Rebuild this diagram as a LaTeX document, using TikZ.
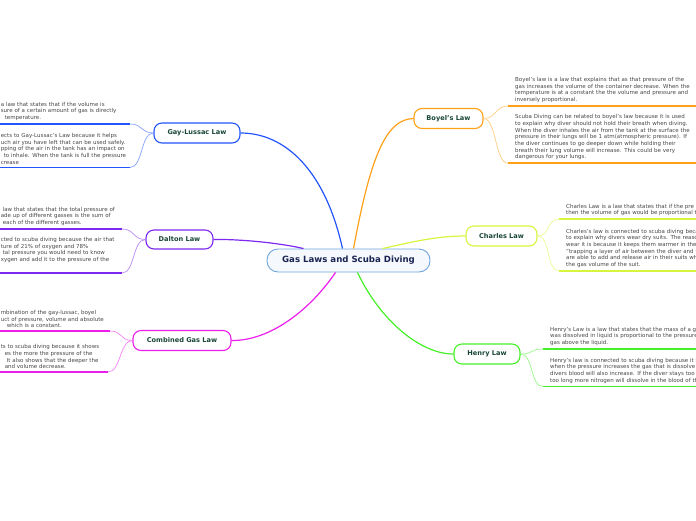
\documentclass[tikz,border=0pt]{standalone}
\usepackage{fontspec}
\setmainfont{DejaVu Sans}
\usetikzlibrary{positioning}

\definecolor{glblue}{RGB}{35,85,250}
\definecolor{dlpurple}{RGB}{125,40,240}
\definecolor{cbmagenta}{RGB}{235,30,235}
\definecolor{byorange}{RGB}{255,160,25}
\definecolor{chlime}{RGB}{215,245,60}
\definecolor{hngreen}{RGB}{70,240,40}
\definecolor{centerblue}{RGB}{110,165,220}
\definecolor{centerfill}{RGB}{245,249,253}
\definecolor{labelink}{RGB}{25,70,55}
\definecolor{titleink}{RGB}{25,35,80}
\definecolor{noteink}{RGB}{70,70,70}

\begin{document}
\begin{tikzpicture}[
  x=1pt, y=-1pt,
  topic/.style={draw, line width=1.1pt, fill=white, rounded corners=8pt, inner sep=0pt,
    text=labelink, font=\fontsize{6.6}{8}\selectfont\bfseries, minimum height=20pt},
  note/.style={font=\fontsize{5.5}{6.7}\selectfont, text=noteink, align=left,
    inner xsep=0pt, inner ysep=3pt},
  lnote/.style={note, anchor=south east, text width=#1},
  rnote/.style={note, anchor=south west, text width=200pt, inner xsep=7pt},
  branch/.style={line width=1.2pt},
  twig/.style={line width=0.7pt},
  rule/.style={line width=1.7pt},
]
\useasboundingbox (0,0) rectangle (696,520);
\clip (0,0) rectangle (696,520);

% --- central topic ---
\node[topic, draw=centerblue, fill=centerfill, text=titleink, line width=0.9pt,
  rounded corners=11pt, minimum width=163pt, minimum height=23pt,
  font=\fontsize{8.6}{10}\selectfont\bfseries] (central) at (348.5,260.5)
  {Gas Laws and Scuba Diving};

\coordinate (c-gl) at ([xshift=-6pt]central.north);
\coordinate (c-by) at ([xshift=5pt]central.north);
\coordinate (c-ch) at ([xshift=34pt]central.north);
\coordinate (c-dl) at ([xshift=-45pt]central.north);
\coordinate (c-cb) at ([xshift=-13pt]central.south);
\coordinate (c-hn) at ([xshift=9pt]central.south);

% --- main topics ---
\node[topic, draw=glblue,    minimum width=86pt] (gl) at (197,133)   {Gay-Lussac Law};
\node[topic, draw=dlpurple,  minimum width=67pt, minimum height=19pt] (dl) at (179.5,239.5) {Dalton Law};
\node[topic, draw=cbmagenta, minimum width=98pt] (cb) at (182,340.5) {Combined Gas Law};
\node[topic, draw=byorange,  minimum width=69pt] (by) at (448.5,118.5) {Boyel's Law};
\node[topic, draw=chlime,    minimum width=71pt] (ch) at (501.5,236) {Charles Law};
\node[topic, draw=hngreen,   minimum width=66pt] (hn) at (487,354)   {Henry Law};

\draw[branch, glblue]    (c-gl) .. controls (325,170) and (285,133) .. (gl.east);
\draw[branch, dlpurple]  (c-dl) .. controls (280,243) and (240,239) .. (dl.east);
\draw[branch, cbmagenta] (c-cb) .. controls (310,310) and (270,341) .. (cb.east);
\draw[branch, byorange]  (c-by) .. controls (370,160) and (385,119) .. (by.west);
\draw[branch, chlime]    (c-ch) .. controls (420,240) and (440,236) .. (ch.west);
\draw[branch, hngreen]   (c-hn) .. controls (380,320) and (420,354) .. (hn.west);

% --- Gay-Lussac notes ---
\node[lnote=129pt] (gl-a) at (130,124)
  {a law that states that if the volume is\\
   sure of a certain amount of gas is directly\\
   \hspace*{4pt}temperature.};
\node[lnote=129pt] (gl-b) at (130,167.5)
  {ects to Gay-Lussac's Law because it helps\\
   uch air you have left that can be used safely.\\
   pping of the air in the tank has an impact on\\
   \hspace*{3pt}to inhale. When the tank is full the pressure\\
   crease};

% --- Dalton notes ---
\node[lnote=121pt] (dl-a) at (122,229)
  {\hspace*{2pt}law that states that the total pressure of\\
   ade up of different gasses is the sum of\\
   \hspace*{2pt}each of the different gasses.};
\node[lnote=121pt, inner ysep=10pt] (dl-b) at (122,273)
  {cted to scuba diving because the air that\\
   ture of 21\% of oxygen and 78\%\\
   \hspace*{2pt}tal pressure you would need to know\\
   xygen and add it to the pressure of the};

% --- Combined gas law notes ---
\node[lnote=109pt] (cb-a) at (110,331)
  {mbination of the gay-lussac, boyel\\
   uct of pressure, volume and absolute\\
   \hspace*{6pt}which is a constant.};
\node[lnote=107pt] (cb-b) at (108,372)
  {ts to scuba diving because it shows\\
   \hspace*{4pt}es the more the pressure of the\\
   \hspace*{6pt}It also shows that the deeper the\\
   \hspace*{4pt}and volume decrease.};

% --- Boyel's notes ---
\node[rnote] (by-a) at (508,106)
  {Boyel's law is a law that explains that as that pressure of the\\
   gas increases the volume of the container decrease. When the\\
   temperature is at a constant the the volume and pressure and\\
   inversely proportional.};
\node[rnote] (by-b) at (508,163.3)
  {Scuba Diving can be related to boyel's law because it is used\\
   to explain why diver should not hold their breath when diving.\\
   When the diver inhales the air from the tank at the surface the\\
   pressure in their lungs will be 1 atm(atmospheric pressure). If\\
   the diver continues to go deeper down while holding their\\
   breath their lung volume will increase. This could be very\\
   dangerous for your lungs.};

% --- Charles notes ---
\node[rnote] (ch-a) at (559,219.3)
  {Charles Law is a law that states that if the pre\\
   then the volume of gas would be proportional t};
\node[rnote] (ch-b) at (559,271)
  {Charles's law is connected to scuba diving beca\\
   to explain why divers wear dry suits. The reaso\\
   wear it is because it keeps them warmer in the\\
   "trapping a layer of air between the diver and t\\
   are able to add and release air in their suits wh\\
   the gas volume of the suit.};

% --- Henry notes ---
\node[rnote] (hn-a) at (543,349)
  {Henry's Law is a law that states that the mass of a g\\
   was dissolved in liquid is proportional to the pressure\\
   gas above the liquid.};
\node[rnote] (hn-b) at (543,386.5)
  {Henry's law is connected to scuba diving because it s\\
   when the pressure increases the gas that is dissolve\\
   divers blood will also increase. If the diver stays too\\
   too long more nitrogen will dissolve in the blood of th};

% --- rules under the notes ---
\foreach \n/\c in {gl-a/glblue, gl-b/glblue, dl-a/dlpurple, dl-b/dlpurple,
                   cb-a/cbmagenta, cb-b/cbmagenta}
  \draw[rule, \c] ([xshift=-10pt]\n.south west) -- (\n.south east);
\foreach \n/\c in {by-a/byorange, by-b/byorange, ch-a/chlime, ch-b/chlime,
                   hn-a/hngreen, hn-b/hngreen}
  \draw[rule, \c] (\n.south west) -- ([xshift=10pt]\n.south east);

% --- twigs from topics to notes ---
\foreach \t/\n/\c in {gl/gl-a/glblue, gl/gl-b/glblue, dl/dl-a/dlpurple, dl/dl-b/dlpurple,
                      cb/cb-a/cbmagenta, cb/cb-b/cbmagenta}
  \draw[twig, \c!55] (\t.west) .. controls +(-13,0) and +(13,0) .. (\n.south east);
\foreach \t/\n/\c in {by/by-a/byorange, by/by-b/byorange, ch/ch-a/chlime, ch/ch-b/chlime,
                      hn/hn-a/hngreen, hn/hn-b/hngreen}
  \draw[twig, \c!55] (\t.east) .. controls +(13,0) and +(-13,0) .. (\n.south west);

\end{tikzpicture}
\end{document}
